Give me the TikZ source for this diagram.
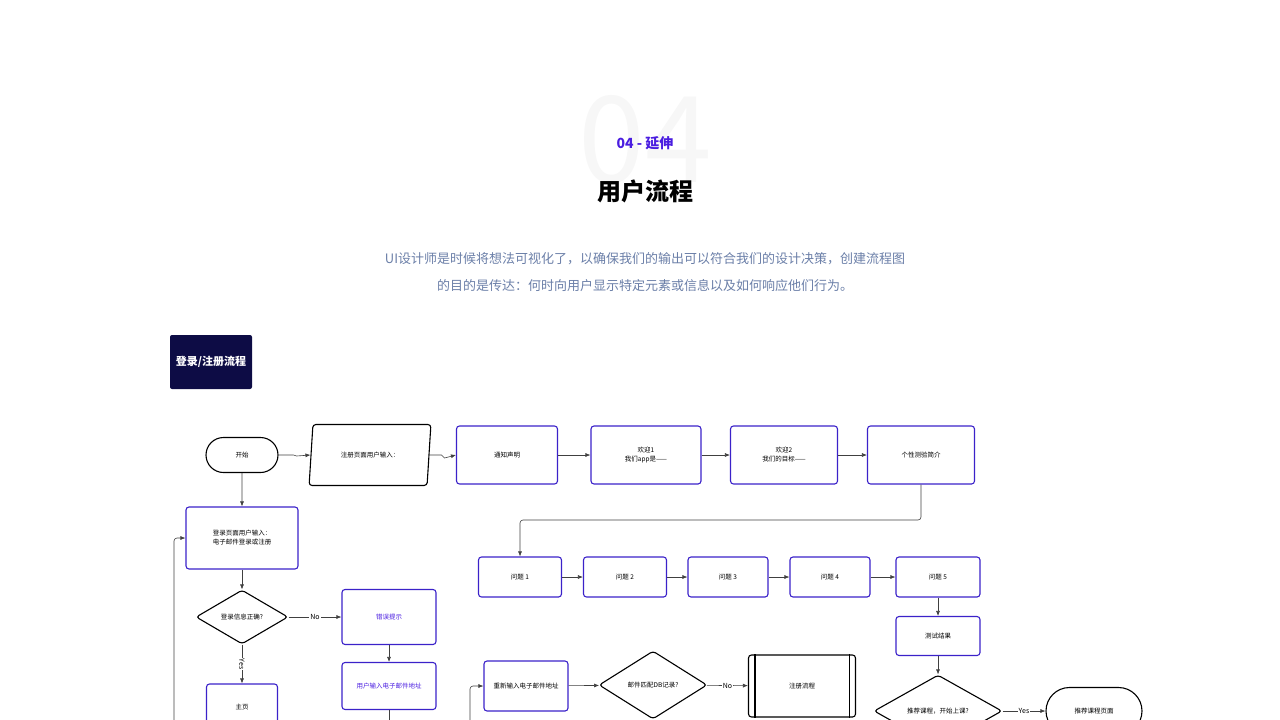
\documentclass[tikz,border=0pt]{standalone}
\usepackage{fontspec}
\setmainfont{Noto Sans CJK SC}
\usetikzlibrary{arrows.meta,positioning,shapes.geometric,shapes.misc}
\definecolor{flowblue}{HTML}{3B22C9}
\definecolor{navy}{HTML}{0D0C45}
\definecolor{accent}{HTML}{4A1DE0}
\definecolor{greytext}{HTML}{6B7FA8}
\tikzset{
  box/.style={rectangle, rounded corners=3pt, draw=flowblue, line width=1.1pt, align=center, font=\fontsize{6.5}{9}\selectfont, inner sep=0pt},
  term/.style={rounded rectangle, draw=black, line width=1.1pt, align=center, font=\fontsize{6.5}{9}\selectfont, inner sep=0pt},
  decide/.style={diamond, aspect=1.7, rounded corners=3pt, draw=black, line width=1.1pt, align=center, font=\fontsize{6.5}{9}\selectfont, inner sep=0pt},
  arrow/.style={-{Latex[length=5pt,width=4pt]}, line width=0.6pt, draw=black!75},
  lab/.style={fill=white, font=\fontsize{7}{8}\selectfont, inner sep=1pt}
}
\begin{document}
\begin{tikzpicture}[x=1pt,y=-1pt]
\useasboundingbox (0,0) rectangle (1280,720);
% header
\node[text=black!3, font=\fontsize{120}{120}\selectfont] (bignum) at (645,140) {04};
\node[text=accent, font=\fontsize{14}{16}\selectfont\bfseries] (sect) at (645,143) {04 - 延伸};
\node[font=\fontsize{24}{28}\selectfont\bfseries] (title) at (645,191) {用户流程};
\node[text=greytext, font=\fontsize{13}{27}\selectfont, align=center] (intro) at (645,272) {UI设计师是时候将想法可视化了，以确保我们的输出可以符合我们的设计决策，创建流程图\\的目的是传达：何时向用户显示特定元素或信息以及如何响应他们行为。};
\node[rectangle, rounded corners=2pt, fill=navy, text=white, minimum width=82pt, minimum height=54pt, font=\fontsize{11}{13}\selectfont\bfseries] (tag) at (211,362) {登录/注册流程};

% top row
\node[term, minimum width=72pt, minimum height=35pt] (start) at (242,455) {开始};
\node[trapezium, trapezium left angle=72, trapezium right angle=108, draw=black, line width=1.1pt, rounded corners=3pt, minimum width=122pt, minimum height=61pt, font=\fontsize{6.5}{9}\selectfont, inner sep=0pt, trapezium stretches=true] (reg) at (370,455) {注册页面用户输入：};
\node[box, minimum width=101pt, minimum height=58pt] (notice) at (507,455) {通知声明};
\node[box, minimum width=110pt, minimum height=58pt] (welA) at (646,455) {欢迎1\\我们app是——};
\node[box, minimum width=107pt, minimum height=58pt] (welB) at (784,455) {欢迎2\\我们的目标——};
\node[box, minimum width=107pt, minimum height=58pt] (intro2) at (921,455) {个性测验简介};

% question row
\node[box, minimum width=83pt, minimum height=40pt] (qa) at (520,577) {问题 1};
\node[box, minimum width=83pt, minimum height=40pt] (qb) at (625,577) {问题 2};
\node[box, minimum width=80pt, minimum height=40pt] (qc) at (728,577) {问题 3};
\node[box, minimum width=80pt, minimum height=40pt] (qd) at (830,577) {问题 4};
\node[box, minimum width=84pt, minimum height=40pt] (qe) at (938,577) {问题 5};
\node[box, minimum width=84pt, minimum height=39pt] (result) at (938,636) {测试结果};
\node[decide, minimum width=128pt, minimum height=72pt] (recq) at (938,711) {推荐课程，开始上课?};
\node[term, minimum width=96pt, minimum height=47pt] (recp) at (1094,711) {推荐课程页面};

% login column
\node[box, minimum width=112pt, minimum height=62pt] (login) at (242,538) {登录页面用户输入：\\电子邮件登录或注册};
\node[decide, minimum width=92pt, minimum height=54pt] (check) at (242,617) {登录信息正确?};
\node[box, minimum width=94pt, minimum height=55pt, text=accent] (err) at (389,617) {错误提示};
\node[box, minimum width=94pt, minimum height=47pt, text=accent] (email) at (389,686) {用户输入电子邮件地址};
\node[box, minimum width=71pt, minimum height=46pt] (home) at (242,707) {主页};
\node[box, minimum width=84pt, minimum height=50pt] (reemail) at (526,686) {重新输入电子邮件地址};
\node[decide, minimum width=108pt, minimum height=68pt] (match) at (653,685) {邮件匹配DB记录?};
\node[rectangle, rounded corners=3pt, draw=black, line width=1.1pt, minimum width=107pt, minimum height=62pt, font=\fontsize{6.5}{9}\selectfont] (signup) at (802,686) {注册流程};
\draw[line width=1.1pt] ([xshift=7pt]signup.north west) -- ([xshift=7pt]signup.south west);
\draw[line width=1.1pt] ([xshift=-7pt]signup.north east) -- ([xshift=-7pt]signup.south east);
\coordinate (loopA) at (174,720);
\coordinate (loopB) at (470,720);
\coordinate (down) at (389,720);

% connectors
\draw[arrow] (start.east) -- ++(15,0) -- ++(3,1) -- (reg.west);
\draw[arrow] (reg.east) -- ++(12,0) -- ++(3,3) -- (notice.west);
\draw[arrow] (notice) -- (welA);
\draw[arrow] (welA) -- (welB);
\draw[arrow] (welB) -- (intro2);
\draw[arrow, rounded corners=3pt] (intro2.south) |- (520,520) -- (qa.north);
\draw[arrow] (qa) -- (qb);
\draw[arrow] (qb) -- (qc);
\draw[arrow] (qc) -- (qd);
\draw[arrow] (qd) -- (qe);
\draw[arrow] (qe) -- (result);
\draw[arrow] (result) -- (recq);
\draw[arrow] (recq) -- node[lab] {Yes} (recp);
\draw[arrow] (start) -- (login);
\draw[arrow] (login) -- (check);
\draw[arrow] (check) -- node[lab] {No} (err);
\draw[arrow] (check) -- node[lab, rotate=-90] {Yes} (home);
\draw[arrow] (err) -- (email);
\draw[line width=0.6pt, draw=black!75] (email) -- (down);
\draw[arrow, rounded corners=3pt] (loopA) |- (login.west);
\draw[arrow, rounded corners=3pt] (loopB) |- (reemail.west);
\draw[arrow] (reemail) -- (match);
\draw[arrow] (match) -- node[lab] {No} (signup);
\end{tikzpicture}
\end{document}
